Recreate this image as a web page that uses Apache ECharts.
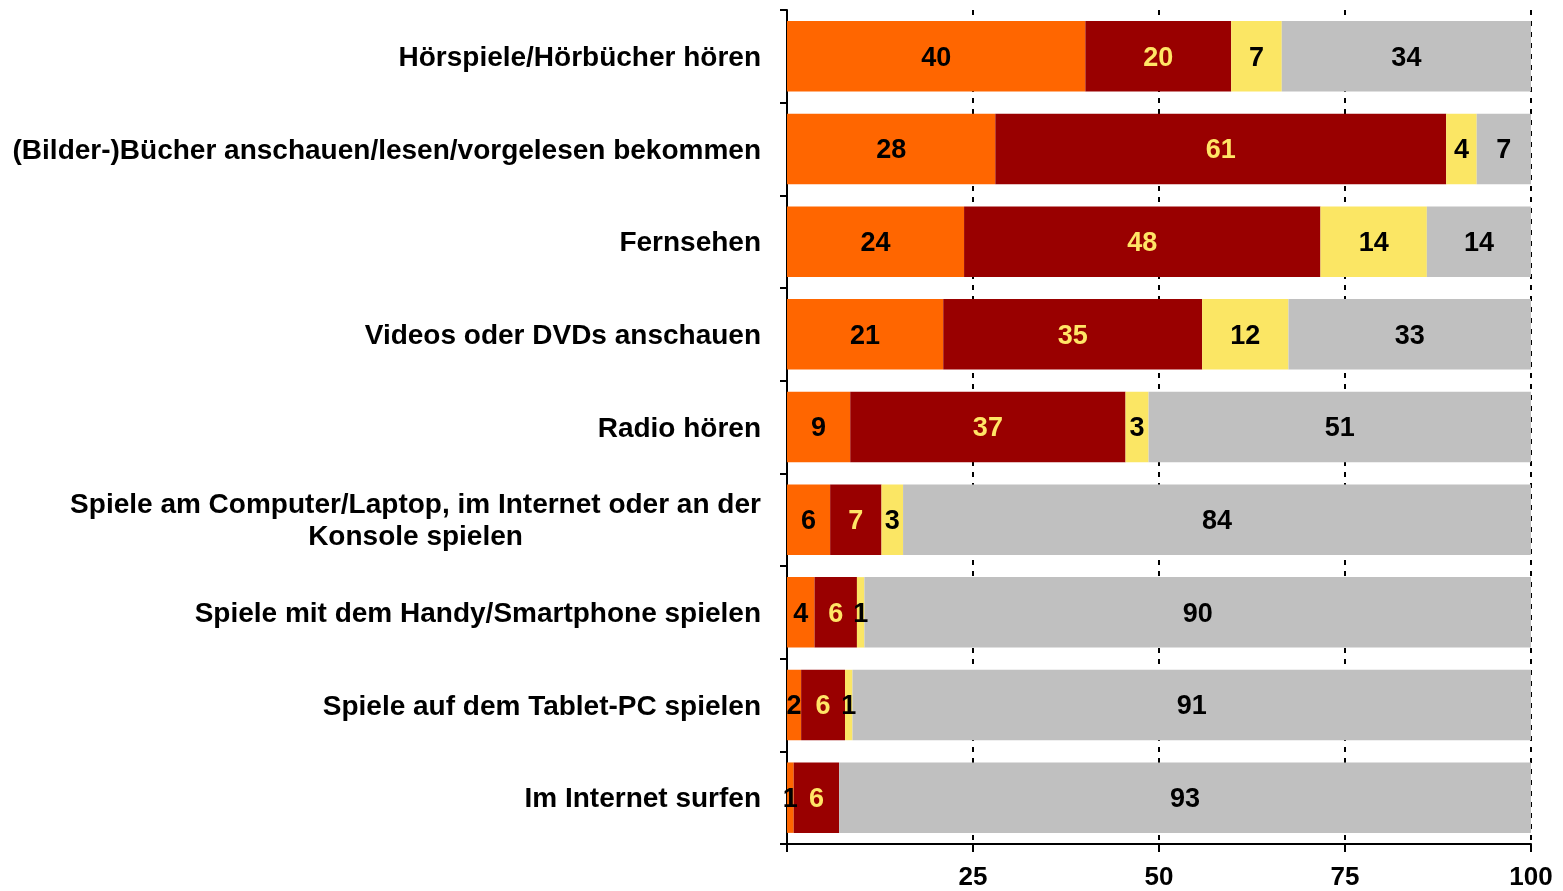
<!DOCTYPE html>
<html>
<head>
<meta charset="utf-8">
<script src="https://cdn.jsdelivr.net/npm/echarts@6/dist/echarts.min.js"></script>
<style>
html,body{margin:0;padding:0;background:#fff;}
#chart{width:1563px;height:891px;}
</style>
</head>
<body>
<div id="chart"></div>
<script>
const categories = [
  "Hörspiele/Hörbücher hören",
  "(Bilder-)Bücher anschauen/lesen/vorgelesen bekommen",
  "Fernsehen",
  "Videos oder DVDs anschauen",
  "Radio hören",
  "Spiele am Computer/Laptop, im Internet oder an der\nKonsole spielen",
  "Spiele mit dem Handy/Smartphone spielen",
  "Spiele auf dem Tablet-PC spielen",
  "Im Internet surfen"
];
const seriesNames = ["täglich/fast täglich", "ein-/mehrmals pro Woche", "seltener", "nie"];
const orangeVals = [40.1, 28.0, 23.8, 21.0, 8.5, 5.8, 3.7, 1.9, 0.9];
const redVals    = [19.6, 60.6, 47.9, 34.8, 37.0, 6.9, 5.7, 5.9, 6.1];
const yellowVals = [6.8, 4.1, 14.3, 11.6, 3.1, 2.9, 1.0, 1.0, 0];
const grayVals   = [33.6, 7.3, 14.0, 32.6, 51.4, 84.4, 89.6, 91.2, 93.0];
const xTicks = [0, 25, 50, 75, 100];

const FONT = "'Liberation Sans', Arial, sans-serif";
const catFontSize = 28;

function measure(text, size) {
  const c = document.createElement('canvas').getContext('2d');
  c.font = 'bold ' + size + 'px ' + FONT;
  return c.measureText(text).width;
}

const colors = ['#FF6600', '#990000', '#FBE664', '#C0C0C0'];
const labelColors = ['#000000', '#FFE566', '#000000', '#000000'];
const valueSets = [orangeVals, redVals, yellowVals, grayVals];

const chart = echarts.init(document.getElementById('chart'), null, {renderer: 'canvas'});

const series = valueSets.map((vals, i) => ({
  name: seriesNames[i],
  type: 'bar',
  stack: 'total',
  barWidth: '76%',
  data: vals,
  itemStyle: {color: colors[i]},
  label: {
    show: true,
    position: 'inside',
    offset: [0, 2],
    color: labelColors[i],
    fontFamily: FONT,
    fontWeight: 'bold',
    fontSize: 27,
    formatter: p => p.value > 0 ? String(Math.round(p.value)) : ''
  },
  emphasis: {disabled: true}
}));

chart.setOption({
  backgroundColor: '#ffffff',
  animation: false,
  grid: {left: 787, right: 32, top: 10, bottom: 46, containLabel: false},
  xAxis: {
    type: 'value',
    min: 0, max: 100, interval: 25,
    axisLine: {show: true, lineStyle: {color: '#000', width: 2}},
    axisTick: {show: true, length: 8, lineStyle: {color: '#000', width: 2}},
    axisLabel: {
      color: '#000', fontFamily: FONT, fontWeight: 'bold', fontSize: 26, margin: 21,
      formatter: v => (v === xTicks[0] ? '' : String(v))
    },
    splitLine: {show: true, lineStyle: {color: '#000', width: 2, type: [5, 6]}}
  },
  yAxis: {
    type: 'category',
    inverse: true,
    data: categories,
    axisLine: {show: true, lineStyle: {color: '#000', width: 2}},
    axisTick: {show: true, length: 7, lineStyle: {color: '#000', width: 2}},
    axisLabel: {
      color: '#000', fontFamily: FONT, fontWeight: 'bold', fontSize: catFontSize, margin: 26,
      lineHeight: 32,
      padding: [4, 0, 0, 0],
      formatter: v => {
        if (v.indexOf('\n') >= 0) {
          return '{c|' + v + '}';
        }
        return v;
      },
      rich: {
        c: {
          color: '#000', fontFamily: FONT, fontWeight: 'bold', fontSize: catFontSize,
          lineHeight: 32, align: 'center',
          width: Math.ceil(measure(categories[5].split('\n')[0], catFontSize))
        }
      }
    },
    splitLine: {show: false}
  },
  series: series
});
</script>
</body>
</html>
